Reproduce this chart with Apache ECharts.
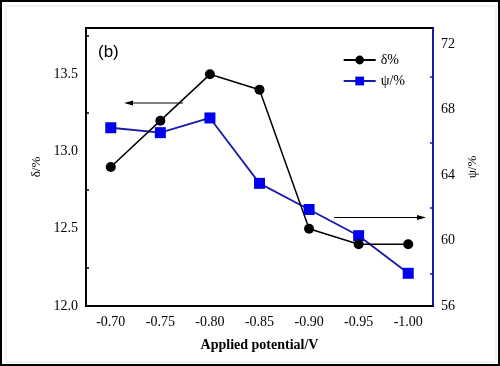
<!DOCTYPE html>
<html><head><meta charset="utf-8">
<script src="https://cdn.jsdelivr.net/npm/echarts@6/dist/echarts.min.js"></script>
<style>
html,body{margin:0;padding:0;background:#fff;}
#c{width:500px;height:366px;box-sizing:border-box;border:2px solid #000;}
</style></head>
<body><div id="c"></div>
<script>
var categories = ['-0.70','-0.75','-0.80','-0.85','-0.90','-0.95','-1.00'];
var deltaValues = [12.9, 13.2, 13.5, 13.4, 12.5, 12.4, 12.4];
var psiValues = [66.9, 66.6, 67.5, 63.5, 61.9, 60.3, 58.0];
var leftTicks = {min: 12.0, max: 13.8, interval: 0.5};
var rightTicks = {min: 56, max: 73, interval: 4};

var chart = echarts.init(document.getElementById('c'));
var serif = 'Liberation Serif';
var blue = '#0000ee';
var darkBlue = '#1a1aa8';
chart.setOption({
  animation: false,
  grid: {left: 84, top: 26, width: 347, height: 278, containLabel: false},
  legend: {
    right: 88, top: 46, orient: 'vertical', itemWidth: 32, itemHeight: 11, itemGap: 7,
    textStyle: {fontFamily: serif, fontSize: 14, color: '#000'},
    data: ['δ%', 'ψ/%']
  },
  xAxis: [{
    type: 'category', data: categories, boundaryGap: true,
    name: 'Applied potential/V', nameLocation: 'middle', nameGap: 32,
    nameTextStyle: {fontFamily: serif, fontSize: 14, fontWeight: 'bold', color: '#000'},
    axisLine: {lineStyle: {color: '#000', width: 2}},
    axisTick: {alignWithLabel: true, inside: true, length: 5, lineStyle: {color: '#000', width: 1.5}},
    axisLabel: {fontFamily: serif, fontSize: 14, color: '#000', margin: 9},
    splitLine: {show: false}
  }, {
    type: 'category', data: categories, boundaryGap: true, position: 'bottom',
    axisLine: {show: false},
    axisTick: {alignWithLabel: false, inside: true, length: 3, lineStyle: {color: '#000', width: 1.5}},
    axisLabel: {show: false}
  }, {
    type: 'category', data: categories, position: 'top',
    axisLine: {lineStyle: {color: '#000', width: 2}},
    axisTick: {show: false}, axisLabel: {show: false}
  }],
  yAxis: [{
    type: 'value', min: leftTicks.min, max: leftTicks.max, interval: leftTicks.interval,
    name: 'δ/%', nameLocation: 'middle', nameGap: 38, nameRotate: 90,
    nameTextStyle: {fontFamily: serif, fontSize: 13, color: '#000'},
    axisLine: {show: true, lineStyle: {color: '#000', width: 2}},
    axisTick: {inside: true, length: 5, lineStyle: {color: '#000', width: 1.5}},
    minorTick: {show: true, splitNumber: 2, length: 3, lineStyle: {color: '#000', width: 1.5}},
    axisLabel: {fontFamily: serif, fontSize: 14, color: '#000', margin: 8, showMaxLabel: false,
      formatter: function(v){return v.toFixed(1);}},
    splitLine: {show: false}
  }, {
    type: 'value', min: rightTicks.min, max: rightTicks.max, interval: rightTicks.interval,
    position: 'right',
    name: 'ψ/%', nameLocation: 'middle', nameGap: 32, nameRotate: 90,
    nameTextStyle: {fontFamily: serif, fontSize: 13, color: '#000'},
    axisLine: {show: true, lineStyle: {color: darkBlue, width: 2}},
    axisTick: {inside: true, length: 5, lineStyle: {color: darkBlue, width: 1.5}},
    minorTick: {show: true, splitNumber: 2, length: 3, lineStyle: {color: darkBlue, width: 1.5}},
    axisLabel: {fontFamily: serif, fontSize: 14, color: '#000', margin: 8, showMaxLabel: false},
    splitLine: {show: false}
  }],
  series: [{
    name: 'δ%', type: 'line', xAxisIndex: 0, yAxisIndex: 0, data: deltaValues,
    symbol: 'circle', symbolSize: 10,
    lineStyle: {color: '#000', width: 1.5}, itemStyle: {color: '#000'}, z: 3
  }, {
    name: 'ψ/%', type: 'line', xAxisIndex: 0, yAxisIndex: 1, data: psiValues,
    symbol: 'rect', symbolSize: 11,
    lineStyle: {color: darkBlue, width: 1.8}, itemStyle: {color: blue}, z: 2
  }],
  graphic: [
    {type: 'text', left: 96, top: 42, style: {text: '(b)', fontFamily: 'Liberation Sans', fontSize: 17, fill: '#000'}},
    {type: 'line', shape: {x1: 128, y1: 101, x2: 181, y2: 101}, style: {stroke: '#000', lineWidth: 1}},
    {type: 'polygon', shape: {points: [[122, 101], [131, 98.5], [131, 103.5]]}, style: {fill: '#000'}},
    {type: 'line', shape: {x1: 332, y1: 215.5, x2: 418, y2: 215.5}, style: {stroke: '#000', lineWidth: 1}},
    {type: 'polygon', shape: {points: [[424, 215.5], [415, 213], [415, 218]]}, style: {fill: '#000'}},
    {type: 'rect', shape: {x: 4, y: 4, width: 490, height: 356}, style: {fill: null, stroke: '#e4e4e4', lineWidth: 1}}
  ]
});
</script></body></html>
